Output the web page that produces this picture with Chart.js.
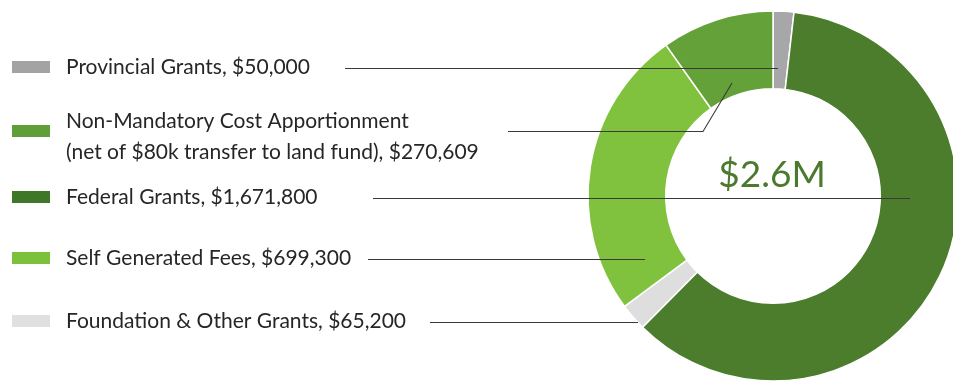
<!DOCTYPE html>
<html lang="en">
<head>
    <meta charset="UTF-8">
    <title>Revenue Sources</title>
    <script src="https://cdn.jsdelivr.net/npm/chart.js"></script>
    <style>
        html, body {
            margin: 0;
            padding: 0;
            background: #ffffff;
            overflow: hidden;
        }
        canvas {
            display: block;
        }
    </style>
</head>
<body>
    <canvas id="revenueChart" width="953" height="385"></canvas>

    <script>
        // Slices, in drawing order (clockwise from 12 o'clock)
        const categories = [
            'Provincial Grants',
            'Federal Grants',
            'Foundation & Other Grants',
            'Self Generated Fees',
            'Non-Mandatory Cost Apportionment'
        ];
        const amounts = [50000, 1671800, 65200, 699300, 270609];
        const notes = ['', '', '', '', '(net of $80k transfer to land fund)'];
        const centerLabel = '$2.6M';

        // Legend rows are listed in a different order than the slices
        const legendOrder = [0, 4, 1, 3, 2];

        const sliceColors = ['#a7a7aa', '#4b7d2c', '#dedede', '#80c23e', '#64a138'];
        const swatchColors = ['#a3a3a3', '#5e9f38', '#3f7729', '#7cc13a', '#e0e0e0'];

        // Row layout: text centre, leader start x, leader end offset from the doughnut centre
        const rowY = [67, 131, 197, 258, 321];
        const leaderStartX = [345, 508, 373, 368, 430];
        const leaderEnd = [[5, -129], [-41, -113], [137, 2], [-128, 62], [-135, 125]];
        const textFont = '21px Lato, "Open Sans", sans-serif';

        function money(v) {
            return '$' + v.toLocaleString('en-US');
        }

        const legendLeaders = {
            id: 'legendLeaders',
            afterDatasetsDraw(chart) {
                const ctx = chart.ctx;
                const arc = chart.getDatasetMeta(0).data[0];
                const cx = arc.x, cy = arc.y;

                ctx.save();
                ctx.font = textFont;
                ctx.textBaseline = 'middle';
                ctx.fillStyle = '#262626';

                legendOrder.forEach((idx, row) => {
                    const y = rowY[row];

                    // swatch
                    ctx.fillStyle = swatchColors[row];
                    ctx.fillRect(12, y - 6, 38, 12);

                    // label text (one or two lines)
                    ctx.fillStyle = '#262626';
                    if (notes[idx]) {
                        ctx.fillText(categories[idx], 66, y - 10);
                        ctx.fillText(notes[idx] + ', ' + money(amounts[idx]), 66, y + 21);
                    } else {
                        ctx.fillText(categories[idx] + ', ' + money(amounts[idx]), 66, y);
                    }

                    // leader line into the slice
                    const lineY = notes[idx] ? y + 0.5 : y + 1.5;
                    const [dx, dy] = leaderEnd[row];
                    ctx.beginPath();
                    ctx.strokeStyle = '#3a3a3a';
                    ctx.lineWidth = 1.1;
                    ctx.moveTo(leaderStartX[row], lineY);
                    if (notes[idx]) {
                        ctx.lineTo(cx - 70, lineY);
                        ctx.lineTo(cx + dx, cy + dy);
                    } else {
                        ctx.lineTo(cx + dx, lineY);
                    }
                    ctx.stroke();
                });

                // total in the hole
                ctx.font = '37px Lato, "Open Sans", sans-serif';
                ctx.textAlign = 'center';
                ctx.textBaseline = 'alphabetic';
                ctx.fillStyle = '#4b7a2e';
                ctx.fillText(centerLabel, cx - 1, cy - 9);
                ctx.restore();
            }
        };

        const ctx = document.getElementById('revenueChart').getContext('2d');

        new Chart(ctx, {
            type: 'doughnut',
            data: {
                labels: categories,
                datasets: [{
                    data: amounts,
                    backgroundColor: sliceColors,
                    borderColor: '#ffffff',
                    borderWidth: 1.5,
                    hoverOffset: 0,
                    radius: 185,
                    cutout: '58%'
                }]
            },
            options: {
                responsive: false,
                animation: false,
                events: [],
                layout: {
                    padding: { left: 593, right: 0, top: 11, bottom: 4 }
                },
                plugins: {
                    legend: { display: false },
                    tooltip: { enabled: false }
                }
            },
            plugins: [legendLeaders]
        });
    </script>
</body>
</html>
